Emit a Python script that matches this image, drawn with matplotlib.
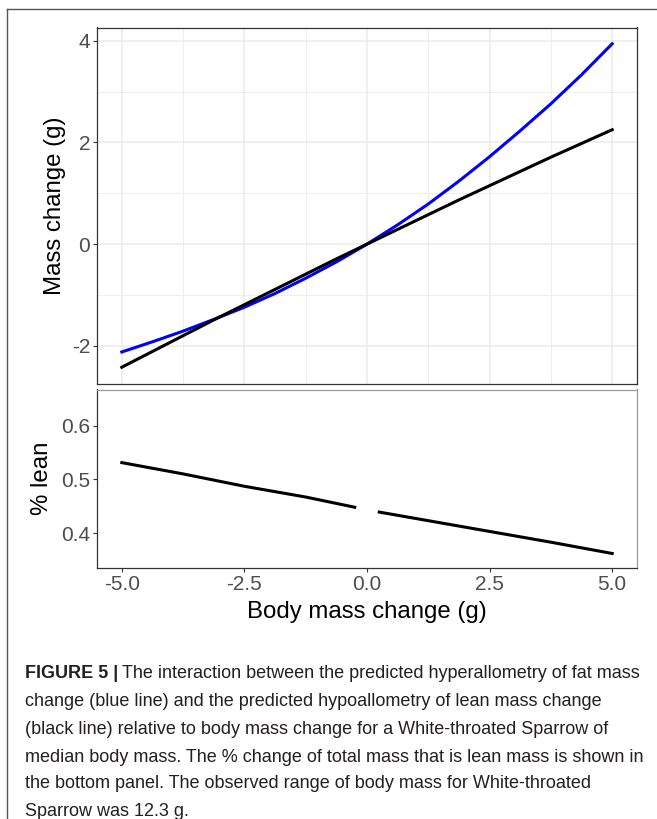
import numpy as np
import matplotlib
matplotlib.use("Agg")
import matplotlib.pyplot as plt
from matplotlib.lines import Line2D
from matplotlib.ticker import MultipleLocator

plt.rcParams['font.family'] = ['Liberation Sans', 'DejaVu Sans']

# body mass change (g) and predicted fat / lean mass change (g)
body_change = [-5, -4.375, -3.75, -3.125, -2.5, -1.875, -1.25, -0.625, 0,
               0.625, 1.25, 1.875, 2.5, 3.125, 3.75, 4.375, 5]
fat_change = [-2.12, -1.92, -1.71, -1.48, -1.24, -0.97, -0.67, -0.35, 0,
              0.38, 0.79, 1.24, 1.72, 2.23, 2.76, 3.33, 3.94]
lean_change = [-2.42, -2.11, -1.80, -1.49, -1.19, -0.89, -0.59, -0.29, 0,
               0.29, 0.58, 0.87, 1.15, 1.43, 1.71, 1.98, 2.25]

# share of the mass change that is lean (undefined at 0)
pct_x = [-5, -3.75, -2.5, -1.25, -0.25, 0, 0.25, 1.25, 2.5, 3.75, 5]
pct_lean = [0.531, 0.510, 0.487, 0.467, 0.448, np.nan, 0.439, 0.423, 0.403, 0.383, 0.362]

xticks = [-5.0, -2.5, 0.0, 2.5, 5.0]
xtick_labels = ['-5.0', '-2.5', '0.0', '2.5', '5.0']
top_yticks = [-2, 0, 2, 4]
top_ytick_labels = ['-2', '0', '2', '4']
bottom_yticks = [0.4, 0.5, 0.6]
bottom_ytick_labels = ['0.4', '0.5', '0.6']

caption = [
    "The interaction between the predicted hyperallometry of fat mass",
    "change (blue line) and the predicted hypoallometry of lean mass change",
    "(black line) relative to body mass change for a White-throated Sparrow of",
    "median body mass. The % change of total mass that is lean mass is shown in",
    "the bottom panel. The observed range of body mass for White-throated",
    "Sparrow was 12.3 g.",
]

W, H = 657, 819
fig = plt.figure(figsize=(W / 100, H / 100), dpi=100)

def px_box(left, top, right, bottom):
    return [left / W, 1 - bottom / H, (right - left) / W, (bottom - top) / H]

tick_col = '#4D4D4D'
ax1 = fig.add_axes(px_box(97.3, 27.5, 636.7, 384))
ax2 = fig.add_axes(px_box(97.3, 389.5, 636.7, 568))

# top panel
ax1.plot(body_change, fat_change, color='#0000FF', lw=2.2, zorder=3)
ax1.plot(body_change, lean_change, color='black', lw=2.2, zorder=3)
ax1.set_xlim(-5.5, 5.5)
ax1.set_ylim(-2.75, 4.26)
ax1.set_xticks(xticks)
ax1.xaxis.set_minor_locator(MultipleLocator(1.25))
ax1.set_yticks(top_yticks)
ax1.set_yticklabels(top_ytick_labels)
ax1.yaxis.set_minor_locator(MultipleLocator(1))
ax1.grid(which='major', color='#EBEBEB', lw=1.1)
ax1.grid(which='minor', color='#EBEBEB', lw=0.6)
ax1.set_axisbelow(True)
ax1.tick_params(axis='x', which='both', length=0, labelbottom=False)
ax1.tick_params(axis='y', which='minor', length=0)
ax1.tick_params(axis='y', which='major', length=3, width=0.8, color='#333333',
                labelsize=15, labelcolor=tick_col, pad=2)
for s in ax1.spines.values():
    s.set_color('#333333')
    s.set_linewidth(0.9)
ax1.set_ylabel('Mass change (g)', fontsize=17.3, va='center')
ax1.yaxis.set_label_coords((55 - 97.3) / 539.4, 0.5)

# bottom panel
ax2.plot(pct_x, pct_lean, color='black', lw=2.2)
ax2.set_xlim(-5.5, 5.5)
ax2.set_ylim(0.335, 0.667)
ax2.set_xticks(xticks)
ax2.set_xticklabels(xtick_labels)
ax2.set_yticks(bottom_yticks)
ax2.set_yticklabels(bottom_ytick_labels)
ax2.tick_params(length=3, width=0.8, color='#333333', labelsize=15,
                labelcolor=tick_col, pad=2)
for side in ['left', 'bottom']:
    ax2.spines[side].set_color('#333333')
    ax2.spines[side].set_linewidth(0.9)
for side in ['top', 'right']:
    ax2.spines[side].set_color('#9A9A9A')
    ax2.spines[side].set_linewidth(0.9)
ax2.set_ylabel('% lean', fontsize=17.3, va='center')
ax2.yaxis.set_label_coords((42 - 97.3) / 539.4, 0.5)
ax2.set_xlabel('Body mass change (g)', fontsize=17.3, va='center')
ax2.xaxis.set_label_coords(0.5, (568 - 612) / 178.5)

# frame round the figure
frame_col = '#555555'
fig.add_artist(Line2D([7 / W, 7 / W], [0, 1 - 9 / H], color=frame_col, lw=1.0))
fig.add_artist(Line2D([7 / W, 1], [1 - 9 / H, 1 - 9 / H], color=frame_col, lw=1.0))

# caption
cap_size = 13
cap_col = '#231F20'
line_y = [674, 702, 729, 757, 784, 811]
renderer = fig.canvas.get_renderer()
bold = fig.text(25 / W, 1 - line_y[0] / H, 'FIGURE 5 |', fontsize=cap_size,
                fontweight='bold', color=cap_col, va='center')
bb = bold.get_window_extent(renderer)
fig.text((bb.x1 + 4) / W, 1 - line_y[0] / H, caption[0], fontsize=cap_size,
         color=cap_col, va='center')
for text, y in zip(caption[1:], line_y[1:]):
    fig.text(25 / W, 1 - y / H, text, fontsize=cap_size, color=cap_col, va='center')

fig.savefig('out.png', dpi=100)
